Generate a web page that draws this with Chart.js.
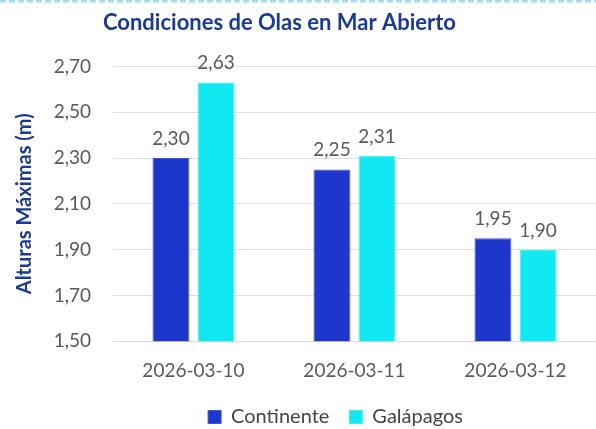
<!DOCTYPE html>
<html>
<head>
<meta charset="utf-8">
<script src="https://cdn.jsdelivr.net/npm/chart.js@4"></script>
<style>
  html, body { margin: 0; padding: 0; background: #fff; }
  #wrap { width: 596px; height: 429px; position: relative; }
</style>
</head>
<body>
<div id="wrap"><canvas id="wave-chart"></canvas></div>
<script>
// chart data
const dates = ['2026-03-10', '2026-03-11', '2026-03-12'];
const continente = [2.30, 2.25, 1.95];
const galapagos = [2.63, 2.31, 1.90];

const FONT = 'Lato, "Open Sans", sans-serif';
const fmt = v => v.toFixed(2).replace('.', ',');

// value labels above bars
const barLabels = {
    id: 'barLabels',
    afterDatasetsDraw(chart) {
        const c = chart.ctx;
        c.save();
        c.font = '19px ' + FONT;
        c.fillStyle = '#595959';
        c.textAlign = 'center';
        c.textBaseline = 'alphabetic';
        chart.data.datasets.forEach((ds, i) => {
            chart.getDatasetMeta(i).data.forEach((bar, j) => {
                c.fillText(fmt(ds.data[j]), bar.x, bar.y - 13);
            });
        });
        c.restore();
    }
};

// dashed strip along the top edge
const topDash = {
    id: 'topDash',
    beforeDraw(chart) {
        const c = chart.ctx;
        c.save();
        c.strokeStyle = '#9fdcf5';
        c.lineWidth = 3;
        c.setLineDash([6, 3]);
        c.beginPath();
        c.moveTo(0, 1);
        c.lineTo(chart.width, 1);
        c.stroke();
        c.restore();
    }
};

// nudge legend down / sideways and title sideways
const boxTweak = {
    id: 'boxTweak',
    beforeInit(chart) {
        const lg = chart.legend;
        const origFit = lg.fit;
        lg.fit = function () {
            origFit.call(this);
            this.height -= 8;
        };
    },
    afterLayout(chart) {
        chart.legend.left += 33;
        chart.legend.right += 33;
        chart.titleBlock.left -= 23;
        chart.titleBlock.right -= 23;
    }
};

const ctx = document.getElementById('wave-chart').getContext('2d');
new Chart(ctx, {
    type: 'bar',
    data: {
        labels: dates,
        datasets: [{
            label: 'Continente',
            data: continente,
            backgroundColor: '#1c37c9',
            borderColor: '#3a55d9',
            borderWidth: 1,
            categoryPercentage: 0.56,
            barPercentage: 0.82
        }, {
            label: 'Galápagos',
            data: galapagos,
            backgroundColor: '#12e8f2',
            borderColor: '#40eef6',
            borderWidth: 1,
            categoryPercentage: 0.56,
            barPercentage: 0.82
        }]
    },
    options: {
        responsive: true,
        maintainAspectRatio: false,
        animation: false,
        layout: { padding: { left: 9, right: 0, top: 4, bottom: 0 } },
        plugins: {
            title: {
                display: true,
                text: 'Condiciones de Olas en Mar Abierto',
                color: '#1a3a94',
                font: { family: FONT, size: 22, weight: 'bold' },
                padding: { top: 6, bottom: 30 }
            },
            legend: {
                position: 'bottom',
                labels: {
                    color: '#444',
                    font: { family: FONT, size: 20 },
                    boxWidth: 13,
                    boxHeight: 13,
                    padding: 20
                }
            },
            tooltip: { enabled: false }
        },
        scales: {
            x: {
                grid: { display: false, drawTicks: false },
                border: { color: '#ddd' },
                ticks: {
                    color: '#595959',
                    font: { family: FONT, size: 19 },
                    padding: 18
                },
                afterFit: scale => { scale.height -= 13; }
            },
            y: {
                min: 1.5,
                max: 2.7,
                grid: { color: '#e0e0e0', drawTicks: false },
                border: { display: false },
                ticks: {
                    stepSize: 0.2,
                    color: '#595959',
                    padding: 22,
                    font: { family: FONT, size: 19 },
                    callback: v => fmt(v)
                },
                title: {
                    display: true,
                    text: 'Alturas Máximas (m)',
                    color: '#1a3a94',
                    font: { family: FONT, size: 20, weight: 'bold' },
                    padding: { top: 4, bottom: 18 }
                },
                afterFit: scale => { scale.width = 104; }
            }
        }
    },
    plugins: [barLabels, topDash, boxTweak]
});
</script>
</body>
</html>
